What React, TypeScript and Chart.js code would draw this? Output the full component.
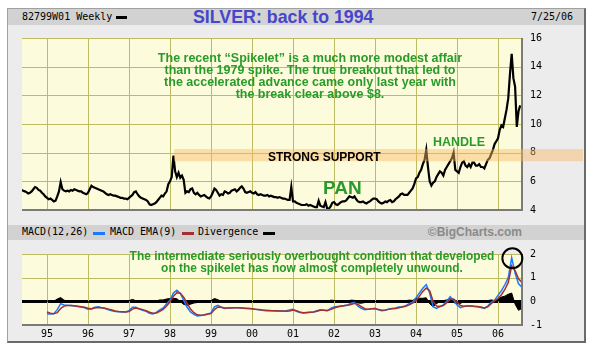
import React, { useEffect, useRef } from 'react';
import { Chart, registerables } from 'chart.js';

Chart.register(...registerables);

// ---------- axes ----------
const X_MIN = 1994.39;
const X_MAX = 2006.585;
const YEAR_TICKS = [1995, 1996, 1997, 1998, 1999, 2000, 2001, 2002, 2003, 2004, 2005, 2006];
const YEAR_LABELS = ['95', '96', '97', '98', '99', '00', '01', '02', '03', '04', '05', '06'];
const PRICE_TICKS = [4, 6, 8, 10, 12, 14, 16];
const MACD_TICKS = [-1, 0, 1, 2];

// ---------- price (half-monthly, starting second half of May 1994) ----------
const PRICE_START = 1994.375;
const P1994 = [5.4, 5.35, 5.3, 5.25, 5.15, 5.2, 5.3, 5.45, 5.6, 5.55, 5.4, 5.35, 5.2, 5.1, 4.95];
const P1995 = [4.85, 4.75, 4.8, 4.7, 4.6, 4.65, 4.95, 5.3, 5.95, 5.45, 5.35, 5.3, 5.35, 5.3, 5.4, 5.35, 5.45, 5.4, 5.35, 5.3, 5.3, 5.2, 5.15, 5.1];
const P1996 = [5.2, 5.45, 5.7, 5.6, 5.55, 5.5, 5.45, 5.4, 5.35, 5.3, 5.2, 5.1, 5.05, 5.1, 5.05, 5.0, 5.0, 4.95, 4.9, 4.85, 4.85, 4.8, 4.8, 4.75];
const P1997 = [4.85, 4.95, 5.05, 5.25, 5.3, 5.1, 4.95, 4.85, 4.8, 4.75, 4.7, 4.6, 4.4, 4.35, 4.4, 4.45, 4.55, 4.7, 4.85, 5.0, 4.95, 5.15, 5.3, 5.8];
const P1998 = [6.0, 6.3, 7.8, 6.7, 6.3, 6.6, 6.25, 6.4, 6.1, 5.2, 5.3, 5.25, 5.45, 5.5, 5.2, 5.1, 5.2, 5.05, 4.95, 5.0, 5.05, 4.95, 4.85, 4.8];
const P1999 = [4.95, 5.2, 5.5, 5.4, 5.2, 5.0, 5.1, 5.05, 5.3, 5.25, 5.15, 5.2, 5.35, 5.4, 5.45, 5.3, 5.4, 5.55, 5.65, 5.5, 5.25, 5.2, 5.25, 5.3];
const P2000 = [5.2, 5.15, 5.25, 5.1, 5.05, 5.1, 5.05, 5.0, 5.0, 5.05, 4.95, 5.0, 4.95, 4.9, 4.9, 4.85, 4.9, 4.85, 4.8, 4.8, 4.75, 4.7, 4.7, 5.6];
const P2001 = [4.6, 4.6, 4.5, 4.45, 4.4, 4.35, 4.35, 4.35, 4.4, 4.3, 4.35, 4.3, 4.25, 4.2, 4.2, 4.65, 4.3, 4.25, 4.2, 4.55, 4.1, 4.1, 4.25, 4.5];
const P2002 = [4.55, 4.4, 4.35, 4.45, 4.55, 4.6, 4.6, 4.65, 4.8, 4.95, 4.9, 4.85, 4.95, 4.75, 4.6, 4.55, 4.55, 4.6, 4.5, 4.45, 4.55, 4.6, 4.7, 4.8];
const P2003 = [4.8, 4.75, 4.6, 4.5, 4.45, 4.5, 4.6, 4.55, 4.65, 4.7, 4.55, 4.6, 4.75, 4.85, 4.95, 5.1, 5.15, 5.05, 5.05, 5.05, 5.2, 5.35, 5.5, 5.8];
const P2004 = [6.2, 6.3, 6.6, 6.8, 7.2, 7.5, 8.2, 7.0, 6.0, 5.7, 5.9, 6.0, 6.3, 6.5, 6.7, 6.6, 6.4, 6.8, 7.0, 7.2, 7.4, 7.6, 8.0, 6.8];
const P2005 = [6.7, 6.6, 7.0, 7.3, 7.4, 7.1, 7.0, 7.2, 7.0, 7.3, 7.3, 7.1, 7.1, 7.2, 7.0, 7.0, 6.9, 7.2, 7.5, 7.6, 7.9, 8.2, 8.6, 8.8];
const P2006 = [9.0, 9.6, 9.9, 9.8, 10.4, 11.0, 11.8, 13.5, 14.9, 13.2, 12.6, 9.8, 10.9, 11.3];
const PRICES = [...P1994, ...P1995, ...P1996, ...P1997, ...P1998, ...P1999, ...P2000, ...P2001, ...P2002, ...P2003, ...P2004, ...P2005, ...P2006];

// support band
const SUPPORT_LOW = 7.4;
const SUPPORT_HIGH = 8.25;
const SUPPORT_FROM = 1998.1;

// ---------- MACD (monthly, starting Jan 1995) ----------
const MACD_START = 1995.0;
const MACD_LINE = [
  -0.53, -0.53, -0.52, -0.35, -0.1, -0.15, -0.17, -0.18, -0.2, -0.22, -0.24, -0.27,
  -0.33, -0.32, -0.25, -0.23, -0.27, -0.3, -0.36, -0.4, -0.43, -0.44, -0.45, -0.45,
  -0.4, -0.25, -0.25, -0.33, -0.38, -0.42, -0.5, -0.53, -0.47, -0.36, -0.28, -0.1,
  0.05, 0.35, 0.47, 0.33, 0.05, -0.25, -0.45, -0.55, -0.62, -0.6, -0.57, -0.53,
  -0.49, -0.23, -0.17, -0.25, -0.3, -0.28, -0.27, -0.27, -0.27, -0.28, -0.3, -0.3,
  -0.31, -0.34, -0.36, -0.38, -0.4, -0.4, -0.4, -0.41, -0.41, -0.41, -0.4, -0.37,
  -0.34, -0.42, -0.47, -0.49, -0.48, -0.46, -0.45, -0.4, -0.36, -0.38, -0.4, -0.3,
  -0.24, -0.22, -0.2, -0.18, -0.15, -0.08, -0.04, -0.2, -0.3, -0.36, -0.34, -0.31,
  -0.3, -0.36, -0.4, -0.38, -0.32, -0.3, -0.28, -0.24, -0.23, -0.18, -0.1, -0.04,
  0.15, 0.35, 0.55, 0.71, 0.35, -0.23, -0.3, -0.22, -0.15, 0.0, 0.2, 0.05,
  -0.15, -0.27, -0.22, -0.2, -0.2, -0.22, -0.23, -0.26, -0.3, -0.2, -0.04, 0.05,
  0.25, 0.45, 0.7, 1.0, 1.84, 1.2, 0.74, 0.6,
];
const SIGNAL_LINE = [
  -0.45, -0.5, -0.52, -0.48, -0.3, -0.2, -0.18, -0.18, -0.19, -0.21, -0.23, -0.25,
  -0.29, -0.31, -0.28, -0.26, -0.27, -0.29, -0.33, -0.37, -0.41, -0.43, -0.44, -0.45,
  -0.43, -0.33, -0.28, -0.31, -0.35, -0.4, -0.46, -0.5, -0.49, -0.42, -0.34, -0.2,
  -0.02, 0.22, 0.36, 0.34, 0.18, -0.08, -0.33, -0.48, -0.57, -0.59, -0.58, -0.55,
  -0.52, -0.35, -0.24, -0.25, -0.28, -0.28, -0.28, -0.27, -0.27, -0.28, -0.29, -0.3,
  -0.31, -0.33, -0.35, -0.37, -0.38, -0.39, -0.4, -0.4, -0.41, -0.41, -0.42, -0.41,
  -0.37, -0.4, -0.45, -0.48, -0.47, -0.46, -0.45, -0.42, -0.38, -0.38, -0.39, -0.35,
  -0.28, -0.24, -0.21, -0.19, -0.17, -0.13, -0.08, -0.13, -0.22, -0.31, -0.33, -0.31,
  -0.3, -0.34, -0.38, -0.37, -0.34, -0.31, -0.3, -0.27, -0.24, -0.21, -0.15, -0.08,
  0.03, 0.22, 0.42, 0.56, 0.45, 0.0, -0.2, -0.22, -0.18, -0.06, 0.08, 0.1,
  -0.02, -0.18, -0.21, -0.2, -0.2, -0.21, -0.22, -0.24, -0.28, -0.23, -0.1, 0.02,
  0.12, 0.28, 0.5, 0.8, 1.5, 1.3, 0.95, 0.8,
];
const DIVERGENCE = [
  0.02, -0.02, 0.0, 0.1, 0.16, 0.05, 0.01, 0.0, -0.01, -0.01, -0.01, -0.02,
  -0.04, -0.02, 0.03, 0.03, 0.0, -0.01, -0.03, -0.03, -0.02, -0.01, -0.01, 0.0,
  0.03, 0.08, 0.03, -0.02, -0.03, -0.02, -0.04, -0.03, 0.02, 0.06, 0.06, 0.1,
  0.12, 0.13, 0.11, -0.01, -0.13, -0.17, -0.12, -0.07, -0.05, -0.01, 0.01, 0.02,
  0.03, 0.12, 0.07, 0.0, -0.02, 0.0, 0.01, 0.0, 0.0, 0.0, -0.01, 0.0,
  -0.01, -0.01, -0.01, -0.01, -0.02, -0.01, 0.0, -0.01, 0.0, 0.0, 0.02, 0.04,
  0.03, -0.02, -0.02, -0.01, 0.0, 0.0, 0.0, 0.02, 0.02, 0.0, -0.01, 0.05,
  0.04, 0.02, 0.01, 0.01, 0.02, 0.05, 0.04, -0.07, -0.08, -0.05, -0.01, 0.0,
  0.0, -0.02, -0.02, 0.0, 0.02, 0.01, 0.02, 0.03, 0.01, 0.03, 0.05, 0.04,
  0.12, 0.13, 0.13, 0.15, -0.1, -0.23, -0.1, 0.0, 0.03, 0.06, 0.12, -0.05,
  -0.1, -0.09, -0.01, 0.0, 0.0, -0.01, -0.01, -0.02, -0.02, 0.03, 0.06, 0.03,
  0.1, 0.18, 0.22, 0.3, 0.35, -0.12, -0.38, -0.3,
];
const PEAK_MARK = { x: 2006.35, y: 1.82 };

// ---------- styles ----------
const GRID = 'rgb(188,188,100)';
const PLOT_BG = '#fcfcdc';
const GREEN = '#2a9a2a';
const TICK_FONT = { family: 'DejaVu Sans Mono', size: 10 };

const halfMonthPoints = PRICES.map((v, i) => ({ x: PRICE_START + i / 24, y: v }));
const monthPoints = (arr: number[]) => arr.map((v, i) => ({ x: MACD_START + i / 12, y: v }));

const bgPlugin = {
  id: 'plotbg',
  beforeDraw(chart: any) {
    const { ctx, chartArea: a } = chart;
    ctx.save();
    ctx.fillStyle = PLOT_BG;
    ctx.fillRect(a.left, a.top, a.right - a.left, a.bottom - a.top);
    ctx.restore();
  },
};

// grid drawn at the tick values of each axis (crisp 1px lines)
const makeGridPlugin = (id: string, xTicks: number[], yTicks: number[]) => ({
  id,
  beforeDatasetsDraw(chart: any) {
    const { ctx, chartArea: a, scales } = chart;
    ctx.save();
    ctx.strokeStyle = GRID;
    ctx.lineWidth = 1;
    ctx.beginPath();
    xTicks.forEach((v) => {
      const px = Math.round(scales.x.getPixelForValue(v)) + 0.5;
      ctx.moveTo(px, a.top);
      ctx.lineTo(px, a.bottom);
    });
    yTicks.forEach((v) => {
      if (v === 0) return;
      const py = Math.round(scales.y.getPixelForValue(v)) + 0.5;
      ctx.moveTo(a.left, py);
      ctx.lineTo(a.right, py);
    });
    ctx.stroke();
    ctx.restore();
  },
});

const framePlugin = {
  id: 'plotframe',
  afterDraw(chart: any) {
    const { ctx, chartArea: a } = chart;
    ctx.save();
    ctx.strokeStyle = '#7a7a7a';
    ctx.lineWidth = 2;
    ctx.beginPath();
    ctx.moveTo(a.left, a.bottom);
    ctx.lineTo(a.right, a.bottom);
    ctx.lineTo(a.right, a.top);
    ctx.stroke();
    ctx.restore();
  },
};

const bandPlugin = {
  id: 'supportband',
  afterDraw(chart: any) {
    const { ctx, scales } = chart;
    const left = scales.x.getPixelForValue(SUPPORT_FROM);
    const top = scales.y.getPixelForValue(SUPPORT_HIGH);
    const bottom = scales.y.getPixelForValue(SUPPORT_LOW);
    ctx.save();
    ctx.fillStyle = 'rgba(250,185,100,0.45)';
    ctx.fillRect(left, top, chart.width - 1 - left, bottom - top);
    ctx.restore();
  },
};

const circlePlugin = {
  id: 'peakcircle',
  afterDraw(chart: any) {
    const { ctx, scales } = chart;
    const cx = scales.x.getPixelForValue(PEAK_MARK.x);
    const cy = scales.y.getPixelForValue(PEAK_MARK.y);
    ctx.save();
    ctx.strokeStyle = '#000';
    ctx.lineWidth = 2;
    ctx.beginPath();
    ctx.arc(cx, cy, 10, 0, Math.PI * 2);
    ctx.stroke();
    ctx.restore();
  },
};

const yearTicks = (s: any) => {
  s.ticks = YEAR_TICKS.map((v) => ({ value: v }));
};

export default function App() {
  const priceRef = useRef<HTMLCanvasElement>(null);
  const macdRef = useRef<HTMLCanvasElement>(null);

  useEffect(() => {
    const priceChart = new Chart(priceRef.current as HTMLCanvasElement, {
      type: 'line',
      data: {
        datasets: [
          {
            data: halfMonthPoints,
            borderColor: '#000',
            borderWidth: 2.2,
            pointRadius: 0,
            tension: 0,
          },
        ],
      },
      options: {
        animation: false,
        responsive: false,
        layout: { padding: { top: 7, bottom: 8, left: 0, right: 0 } },
        plugins: { legend: { display: false }, tooltip: { enabled: false } },
        scales: {
          x: {
            type: 'linear',
            min: X_MIN,
            max: X_MAX,
            afterBuildTicks: yearTicks,
            afterFit: (s: any) => {
              s.height = 0;
            },
            ticks: { display: false },
            grid: { display: false, drawTicks: false },
            border: { display: false },
          },
          y: {
            position: 'right',
            min: 4,
            max: 16,
            afterBuildTicks: (s: any) => {
              s.ticks = PRICE_TICKS.map((v) => ({ value: v }));
            },
            afterFit: (s: any) => {
              s.width = 62;
            },
            ticks: { font: TICK_FONT, color: '#000', padding: 8 },
            grid: { display: false, drawTicks: false },
            border: { display: false },
          },
        },
      } as any,
      plugins: [bgPlugin, makeGridPlugin('pricegrid', YEAR_TICKS, PRICE_TICKS), framePlugin, bandPlugin],
    });

    const macdChart = new Chart(macdRef.current as HTMLCanvasElement, {
      type: 'line',
      data: {
        datasets: [
          {
            label: 'MACD EMA(9)',
            data: monthPoints(SIGNAL_LINE),
            borderColor: '#a33030',
            borderWidth: 1.5,
            pointRadius: 0,
            tension: 0,
            order: 0,
          },
          {
            label: 'MACD(12,26)',
            data: monthPoints(MACD_LINE),
            borderColor: '#1e78ff',
            borderWidth: 1.5,
            pointRadius: 0,
            tension: 0,
            order: 1,
          },
          {
            label: 'Divergence',
            data: monthPoints(DIVERGENCE),
            borderColor: '#000',
            backgroundColor: '#000',
            borderWidth: 1,
            pointRadius: 0,
            tension: 0,
            fill: 'origin',
            order: 2,
          },
        ],
      },
      options: {
        animation: false,
        responsive: false,
        layout: { padding: { top: 7, bottom: 0, left: 0, right: 0 } },
        plugins: { legend: { display: false }, tooltip: { enabled: false } },
        scales: {
          x: {
            type: 'linear',
            min: X_MIN,
            max: X_MAX,
            afterBuildTicks: yearTicks,
            afterFit: (s: any) => {
              s.height = 17;
            },
            ticks: {
              font: TICK_FONT,
              color: '#000',
              padding: 3,
              autoSkip: false,
              maxRotation: 0,
              callback: (v: any) => YEAR_LABELS[YEAR_TICKS.indexOf(v)],
            },
            grid: { display: false, drawTicks: false },
            border: { display: false },
          },
          y: {
            position: 'right',
            min: -1,
            max: 2,
            afterBuildTicks: (s: any) => {
              s.ticks = MACD_TICKS.map((v) => ({ value: v }));
            },
            afterFit: (s: any) => {
              s.width = 62;
            },
            ticks: { font: TICK_FONT, color: '#000', padding: 8 },
            grid: {
              color: (c: any) => (c.tick && c.tick.value === 0 ? '#000' : 'rgba(0,0,0,0)'),
              lineWidth: (c: any) => (c.tick && c.tick.value === 0 ? 3 : 0),
              drawTicks: false,
            },
            border: { display: false },
          },
        },
      } as any,
      plugins: [bgPlugin, makeGridPlugin('macdgrid', YEAR_TICKS, MACD_TICKS), framePlugin, circlePlugin],
    });

    return () => {
      priceChart.destroy();
      macdChart.destroy();
    };
  }, []);

  const mono: React.CSSProperties = { fontFamily: 'DejaVu Sans Mono', fontSize: 10, color: '#000', position: 'absolute', whiteSpace: 'nowrap' };
  const abs: React.CSSProperties = { position: 'absolute', whiteSpace: 'nowrap' };
  const greenText: React.CSSProperties = {
    ...abs,
    fontFamily: 'Liberation Sans, Arial, sans-serif',
    fontWeight: 'bold',
    fontSize: 12.5,
    lineHeight: '12px',
    color: GREEN,
    textAlign: 'center',
  };

  return (
    <div style={{ position: 'absolute', left: 0, top: 0, width: 593, height: 351, background: '#fff', overflow: 'hidden' }}>
      {/* frame */}
      <div style={{ position: 'absolute', left: 7, top: 8, width: 576, height: 332, background: '#ececec', borderLeft: '1px solid #a0a0a0', borderTop: '1px solid #a0a0a0', borderRight: '2px solid #6a6a6a', borderBottom: '2px solid #6a6a6a' }} />
      {/* headers */}
      <div style={{ position: 'absolute', left: 8, top: 9, width: 576, height: 16, background: '#d2d2d2' }} />
      <div style={{ position: 'absolute', left: 8, top: 225, width: 576, height: 15, background: '#d2d2d2' }} />

      <div style={{ ...mono, left: 22, top: 11 }}>82799W01 Weekly</div>
      <div style={{ position: 'absolute', left: 116, top: 16, width: 11, height: 3, background: '#000' }} />
      <div style={{ ...abs, left: 193, top: 6, fontFamily: 'Liberation Sans, Arial, sans-serif', fontWeight: 'bold', fontSize: 17.8, color: '#4646cc', lineHeight: '22px' }}>SILVER: back to 1994</div>
      <div style={{ ...mono, left: 531, top: 11 }}>7/25/06</div>

      <div style={{ ...mono, left: 22, top: 226 }}>MACD(12,26)</div>
      <div style={{ position: 'absolute', left: 93, top: 232, width: 12, height: 3, background: '#1e78ff' }} />
      <div style={{ ...mono, left: 110, top: 226 }}>MACD EMA(9)</div>
      <div style={{ position: 'absolute', left: 182, top: 232, width: 12, height: 3, background: '#a33030' }} />
      <div style={{ ...mono, left: 198, top: 226 }}>Divergence</div>
      <div style={{ position: 'absolute', left: 263, top: 232, width: 12, height: 3, background: '#000' }} />
      <div style={{ ...abs, right: 593 - 522, top: 225, fontFamily: 'Liberation Sans, Arial, sans-serif', fontWeight: 'bold', fontSize: 12, lineHeight: '15px', color: '#8a8a8a' }}>©BigCharts.com</div>

      {/* charts */}
      <canvas ref={priceRef} width={562} height={200} style={{ position: 'absolute', left: 22, top: 24, width: 562, height: 200 }} />
      <canvas ref={macdRef} width={562} height={102} style={{ position: 'absolute', left: 22, top: 240, width: 562, height: 102 }} />

      {/* annotations */}
      <div style={{ ...greenText, left: 110, width: 400, top: 52 }}>
        The recent “Spikelet” is a much more modest affair<br />
        than the 1979 spike. The true breakout that led to<br />
        the accelerated advance came only last year with<br />
        the break clear above $8.
      </div>
      <div style={{ ...abs, left: 268, top: 150, fontFamily: 'Liberation Sans, Arial, sans-serif', fontWeight: 'bold', fontSize: 12, lineHeight: '14px', color: '#000' }}>STRONG SUPPORT</div>
      <div style={{ ...abs, left: 433, top: 135, fontFamily: 'Liberation Sans, Arial, sans-serif', fontWeight: 'bold', fontSize: 12.5, lineHeight: '14px', color: GREEN }}>HANDLE</div>
      <div style={{ ...abs, left: 323, top: 177, fontFamily: 'Liberation Sans, Arial, sans-serif', fontWeight: 'bold', fontSize: 19, lineHeight: '22px', color: GREEN }}>PAN</div>
      <div style={{ ...greenText, left: 112, width: 400, top: 250, transform: 'scaleX(0.955)' }}>
        The intermediate seriously overbought condition that developed<br />
        on the spikelet has now almost completely unwound.
      </div>
    </div>
  );
}
